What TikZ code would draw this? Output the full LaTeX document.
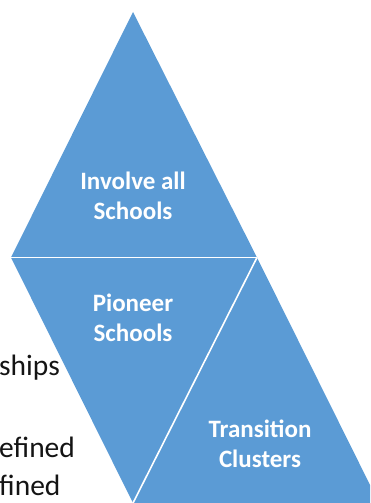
\documentclass[tikz,border=0pt]{standalone}
\usepackage{fontspec}
\setmainfont{Carlito}
\definecolor{triblue}{HTML}{5B9BD5}
\definecolor{sidetext}{HTML}{141414}
\begin{document}
\begin{tikzpicture}[x=1pt,y=1pt,
  tri/.style={fill=triblue},
  sep/.style={white,line width=1.6pt},
  tlabel/.style={text=white,font=\bfseries\fontsize{25}{29.5}\selectfont,align=center,inner sep=0pt},
  side/.style={text=sidetext,font=\fontsize{29.5}{34}\selectfont,anchor=base west,inner sep=0pt}]
\useasboundingbox (0,0) rectangle (370,-503);
\begin{scope}
\clip (0,0) rectangle (370,-503);
\coordinate (a) at (133,-12);
\coordinate (b) at (11,-257.5);
\coordinate (c) at (257,-257.5);
\coordinate (d) at (133,-503);
\coordinate (e) at (379,-503);
\fill[tri] (a) -- (b) -- (c) -- cycle;
\fill[tri] (b) -- (c) -- (d) -- cycle;
\fill[tri] (c) -- (d) -- (e) -- cycle;
\draw[sep] (b) -- (c);
\draw[sep] (c) -- (d);
\end{scope}
\node[tlabel] (top) at (133,-196) {Involve all\\Schools};
\node[tlabel] (mid) at (133,-318) {Pioneer\\Schools};
\node[tlabel] (right) at (260,-444) {Transition\\Clusters};
\node[side] (s1) at (-1,-375) {ships};
\node[side] (s2) at (-1,-457) {efined};
\node[side] (s3) at (-1,-495) {fined};
\end{tikzpicture}
\end{document}
